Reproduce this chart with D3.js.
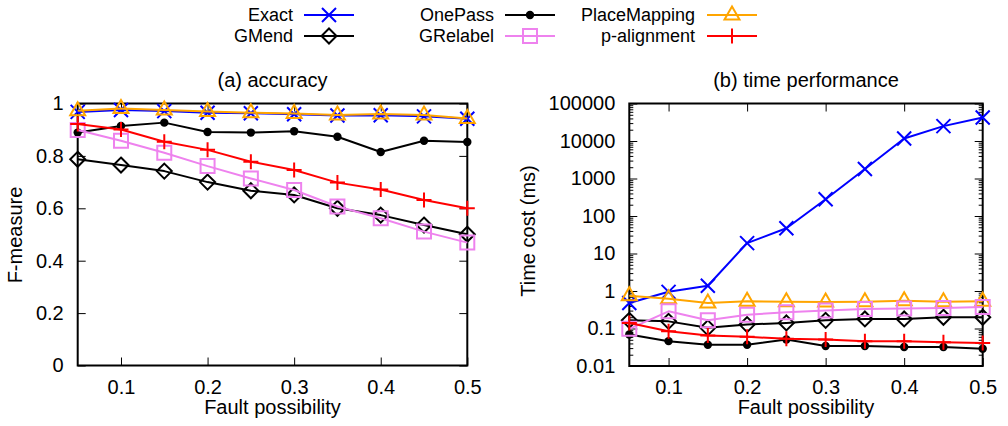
<!DOCTYPE html>
<html><head><meta charset="utf-8">
<script src="https://cdn.jsdelivr.net/npm/d3@7"></script>
<style>
body{margin:0;background:#fff}
svg text{font-family:"Liberation Sans",Arial,Helvetica,sans-serif;fill:#000}
</style>
</head><body>
<svg id="c" width="1008" height="426"></svg>
<script>
// ---- data ----
const faults = [0.05, 0.1, 0.15, 0.2, 0.25, 0.3, 0.35, 0.4, 0.45, 0.5];
const xTickValues = [0.1, 0.2, 0.3, 0.4, 0.5];
const accTickValues = [0, 0.2, 0.4, 0.6, 0.8, 1];
const timeTickValues = [0.01, 0.1, 1, 10, 100, 1000, 10000, 100000];
const timeTickLabels = ["0.01", "0.1", "1", "10", "100", "1000", "10000", "100000"];

const exactAcc     = [0.968, 0.975, 0.971, 0.965, 0.963, 0.959, 0.954, 0.955, 0.951, 0.942];
const onePassAcc   = [0.889, 0.914, 0.927, 0.891, 0.889, 0.894, 0.873, 0.815, 0.858, 0.853];
const placeAcc     = [0.972, 0.981, 0.975, 0.969, 0.965, 0.962, 0.956, 0.960, 0.956, 0.943];
const gmendAcc     = [0.787, 0.765, 0.742, 0.700, 0.667, 0.651, 0.600, 0.574, 0.536, 0.501];
const grelabelAcc  = [0.899, 0.858, 0.812, 0.761, 0.714, 0.670, 0.607, 0.562, 0.511, 0.469];
const palignAcc    = [0.922, 0.901, 0.854, 0.823, 0.778, 0.746, 0.698, 0.672, 0.632, 0.600];

const exactTime    = [0.48, 0.95, 1.38, 18.9, 47, 280, 1790, 11700, 24900, 42400];
const onePassTime  = [0.069, 0.046, 0.037, 0.037, 0.051, 0.034, 0.034, 0.032, 0.032, 0.029];
const placeTime    = [0.75, 0.62, 0.48, 0.53, 0.52, 0.51, 0.52, 0.55, 0.52, 0.53];
const gmendTime    = [0.165, 0.155, 0.104, 0.127, 0.141, 0.165, 0.18, 0.18, 0.199, 0.199];
const grelabelTime = [0.098, 0.287, 0.165, 0.234, 0.27, 0.30, 0.33, 0.34, 0.35, 0.375];
const palignTime   = [0.141, 0.084, 0.065, 0.060, 0.053, 0.051, 0.046, 0.046, 0.043, 0.041];

const seriesNames = ["Exact", "OnePass", "PlaceMapping", "GMend", "GRelabel", "p-alignment"];
const seriesColors = ["#0000ff", "#000000", "#ffa500", "#000000", "#ee82ee", "#ff0000"];
const seriesMarkers = ["cross", "dot", "triangle", "diamond", "square", "plus"];
const accData = [exactAcc, onePassAcc, placeAcc, gmendAcc, grelabelAcc, palignAcc];
const timeData = [exactTime, onePassTime, placeTime, gmendTime, grelabelTime, palignTime];

// ---- drawing ----
const svg = d3.select("#c");
const FONT = 20;

function marker(g, type, color) {
  if (type === "dot") {
    g.append("circle").attr("r", 4.2).attr("fill", color);
    return;
  }
  let d;
  if (type === "cross") d = "M-7,-7L7,7M-7,7L7,-7";
  else if (type === "plus") d = "M-7.5,0H7.5M0,-7.5V7.5";
  else if (type === "triangle") d = "M0,-8.5L7.5,4.5L-7.5,4.5Z";
  else if (type === "diamond") d = "M0,-7.5L7.5,0L0,7.5L-7.5,0Z";
  else if (type === "square") d = "M-7,-7H7V7H-7Z";
  g.append("path").attr("d", d).attr("fill", "none").attr("stroke", color).attr("stroke-width", 2);
}

function panel(opts) {
  const x = d3.scaleLinear().domain([0.05, 0.5]).range([opts.x0, opts.x1]);
  const y = opts.y;
  const g = svg.append("g");

  const styleAxis = (sel) => {
    sel.select(".domain").remove();
    sel.selectAll(".tick line").attr("stroke", "#000").attr("stroke-width", 1);
    sel.selectAll(".tick text").attr("font-size", FONT).attr("font-family", null);
  };

  // bottom / top
  g.append("g").attr("transform", `translate(0,${opts.y0})`)
    .call(d3.axisBottom(x).tickValues(xTickValues).tickSize(-8).tickPadding(14).tickFormat(d3.format(".1f")))
    .call(styleAxis);
  g.append("g").attr("transform", `translate(0,${opts.y1})`)
    .call(d3.axisTop(x).tickValues(xTickValues).tickSize(-8).tickFormat(""))
    .call(styleAxis);
  // left / right
  const la = d3.axisLeft(y).tickValues(opts.yTicks).tickSize(-8).tickPadding(opts.labelPad).tickFormat(opts.yFormat);
  g.append("g").attr("transform", `translate(${opts.x0},0)`).call(la).call(styleAxis);
  g.append("g").attr("transform", `translate(${opts.x1},0)`)
    .call(d3.axisRight(y).tickValues(opts.yTicks).tickSize(-8).tickFormat(""))
    .call(styleAxis);
  if (opts.minor) {
    g.append("g").attr("transform", `translate(${opts.x0},0)`)
      .call(d3.axisLeft(y).tickValues(opts.minor).tickSize(-4).tickFormat(""))
      .call(styleAxis);
    g.append("g").attr("transform", `translate(${opts.x1},0)`)
      .call(d3.axisRight(y).tickValues(opts.minor).tickSize(-4).tickFormat(""))
      .call(styleAxis);
  }

  // border
  g.append("rect").attr("x", opts.x0).attr("y", opts.y1)
    .attr("width", opts.x1 - opts.x0).attr("height", opts.y0 - opts.y1)
    .attr("fill", "none").attr("stroke", "#000").attr("stroke-width", 2);

  // series
  const line = d3.line().x((d, i) => x(faults[i])).y(d => y(d));
  opts.data.forEach((vals, si) => {
    const sg = g.append("g");
    sg.append("path").datum(vals).attr("d", line).attr("fill", "none")
      .attr("stroke", seriesColors[si]).attr("stroke-width", 2).attr("stroke-linejoin", "round");
    vals.forEach((v, i) => {
      const mg = sg.append("g").attr("transform", `translate(${x(faults[i])},${y(v)})`);
      marker(mg, seriesMarkers[si], seriesColors[si]);
    });
  });

  // titles & labels
  const cx = (opts.x0 + opts.x1) / 2;
  g.append("text").attr("x", cx).attr("y", 87).attr("text-anchor", "middle")
    .attr("font-size", FONT).text(opts.title);
  g.append("text").attr("x", cx).attr("y", 414).attr("text-anchor", "middle")
    .attr("font-size", FONT).text("Fault possibility");
  g.append("text").attr("transform", `translate(${opts.ylabX},${opts.ylabY}) rotate(-90)`)
    .attr("text-anchor", "middle").attr("font-size", FONT).text(opts.ylabel);
}

// left panel
panel({
  x0: 77.7, x1: 467.3, y0: 365.5, y1: 103.5,
  y: d3.scaleLinear().domain([0, 1]).range([365.5, 103.5]),
  yTicks: accTickValues, yFormat: d3.format("~g"), labelPad: 14,
  data: accData, title: "(a) accuracy", ylabel: "F-measure", ylabX: 21.5, ylabY: 235
});

// right panel
const minorTicks = [];
timeTickValues.slice(0, -1).forEach(dec => { for (let k = 2; k <= 9; k++) minorTicks.push(dec * k); });
panel({
  x0: 629.3, x1: 982.7, y0: 366, y1: 103.5,
  y: d3.scaleLog().domain([0.01, 100000]).range([366, 103.5]),
  yTicks: timeTickValues, yFormat: (d, i) => timeTickLabels[i], labelPad: 14,
  minor: minorTicks,
  data: timeData, title: "(b) time performance", ylabel: "Time cost (ms)", ylabX: 535, ylabY: 231
});

// legend
const legendCols = [{textEnd: 293, lineStart: 304}, {textEnd: 494, lineStart: 505}, {textEnd: 695, lineStart: 707}];
const legendRows = [15, 36];
seriesNames.forEach((name, i) => {
  const col = legendCols[i % 3], row = legendRows[Math.floor(i / 3)];
  const lg = svg.append("g");
  lg.append("text").attr("x", col.textEnd).attr("y", row).attr("dy", "0.35em")
    .attr("text-anchor", "end").attr("font-size", 18).text(name);
  lg.append("line").attr("x1", col.lineStart).attr("x2", col.lineStart + 50)
    .attr("y1", row).attr("y2", row).attr("stroke", seriesColors[i]).attr("stroke-width", 2);
  const mg = lg.append("g").attr("transform", `translate(${col.lineStart + 25},${row})`);
  marker(mg, seriesMarkers[i], seriesColors[i]);
});
</script>
</body></html>
